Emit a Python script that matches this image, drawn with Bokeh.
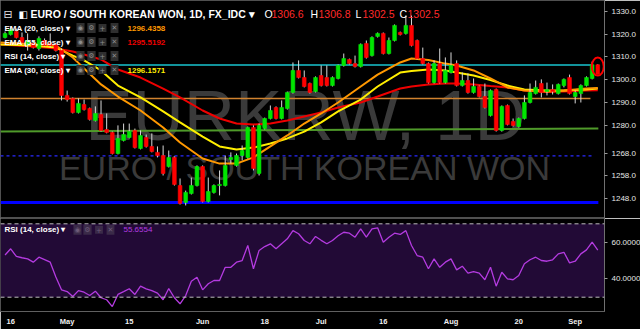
from bokeh.plotting import figure
from bokeh.models import (Range1d, FixedTicker, Label, BoxAnnotation, Span,
                          ColumnDataSource, NumeralTickFormatter)
from bokeh.layouts import column
from bokeh.embed import file_html
from bokeh.resources import INLINE

# ---------------- data ----------------
bar_idx = list(range(-1, 105))
opens = [1318.5, 1319.8, 1321.1, 1318.5, 1315.5, 1315.9, 1313.7, 1317.2, 1315.9, 1315.5,
         1312.8, 1293.2, 1291.9, 1285.7, 1289.2, 1287.5, 1282.2, 1284.9, 1278.3, 1277.0,
         1267.8, 1273.5, 1274.8, 1277.9, 1270.0, 1274.8, 1270.9, 1268.3, 1266.9, 1262.1,
         1266.1, 1253.8, 1246.4, 1250.3, 1253.8, 1262.1, 1246.8, 1250.8, 1253.8, 1253.8,
         1265.2, 1262.6, 1266.9, 1266.1, 1279.2, 1259.1, 1278.7, 1283.1, 1287.9, 1283.1,
         1287.5, 1294.5, 1304.1, 1301.0, 1298.4, 1294.9, 1301.9, 1301.0, 1297.5, 1300.6,
         1306.3, 1308.9, 1307.1, 1305.8, 1315.9, 1310.6, 1319.0, 1320.3, 1311.5, 1317.2,
         1320.7, 1320.3, 1323.8, 1317.2, 1309.3, 1307.1, 1298.8, 1307.1, 1298.8, 1303.2,
         1307.1, 1297.5, 1299.7, 1294.5, 1297.1, 1292.7, 1284.4, 1295.8, 1277.9, 1288.8,
         1281.8, 1279.6, 1283.1, 1290.1, 1294.0, 1298.4, 1294.9, 1295.8, 1294.0, 1297.5,
         1301.0, 1292.7, 1294.0, 1297.5, 1300.6, 1306.6]
highs = [1321.1, 1323.3, 1322.4, 1320.7, 1320.3, 1316.8, 1319.0, 1318.1, 1320.3, 1315.9,
         1313.7, 1295.3, 1292.3, 1291.9, 1291.4, 1287.9, 1288.4, 1291.0, 1285.3, 1277.4,
         1280.1, 1280.9, 1280.9, 1278.7, 1277.9, 1276.1, 1276.6, 1270.9, 1271.3, 1269.1,
         1266.5, 1256.9, 1251.6, 1257.3, 1262.6, 1262.6, 1257.3, 1254.3, 1260.4, 1266.9,
         1268.3, 1267.8, 1271.3, 1279.6, 1280.1, 1280.9, 1283.5, 1288.8, 1288.4, 1291.0,
         1294.9, 1307.6, 1308.5, 1304.1, 1298.8, 1301.5, 1306.3, 1306.3, 1301.5, 1306.7,
         1311.5, 1309.3, 1310.6, 1315.9, 1317.2, 1319.0, 1320.7, 1320.7, 1318.5, 1324.2,
         1321.1, 1328.1, 1328.1, 1317.6, 1314.1, 1307.6, 1308.5, 1313.7, 1309.8, 1312.0,
         1308.5, 1303.2, 1302.8, 1300.6, 1297.5, 1298.4, 1295.8, 1296.2, 1288.8, 1289.2,
         1283.1, 1283.5, 1293.2, 1298.4, 1299.7, 1300.2, 1298.8, 1298.0, 1298.4, 1300.6,
         1302.3, 1295.3, 1298.0, 1301.5, 1308.0, 1306.8]
lows = [1318.1, 1319.4, 1318.1, 1315.9, 1312.8, 1313.7, 1312.8, 1314.6, 1314.1, 1312.4,
        1291.0, 1290.5, 1285.3, 1285.3, 1286.6, 1282.2, 1281.8, 1277.4, 1276.6, 1267.4,
        1267.4, 1273.1, 1274.4, 1270.0, 1269.6, 1270.4, 1268.3, 1266.1, 1258.2, 1261.7,
        1253.8, 1245.5, 1245.1, 1249.9, 1253.4, 1246.4, 1246.4, 1250.3, 1249.5, 1253.4,
        1263.4, 1262.1, 1264.8, 1265.6, 1260.4, 1258.2, 1278.3, 1282.7, 1282.7, 1282.7,
        1287.0, 1294.0, 1300.6, 1296.7, 1294.0, 1294.5, 1297.1, 1297.1, 1297.1, 1300.2,
        1305.8, 1306.7, 1305.4, 1305.4, 1309.3, 1310.2, 1318.5, 1311.1, 1311.1, 1316.8,
        1319.4, 1319.8, 1314.6, 1308.9, 1306.7, 1298.4, 1298.4, 1298.4, 1298.4, 1302.8,
        1297.1, 1297.1, 1294.0, 1294.0, 1292.3, 1287.5, 1284.0, 1277.4, 1277.4, 1280.1,
        1279.6, 1279.2, 1282.7, 1289.7, 1293.6, 1292.3, 1293.2, 1293.6, 1293.6, 1296.7,
        1293.6, 1289.7, 1290.1, 1297.1, 1300.2, 1302.5]
closes = [1320.3, 1322.0, 1318.5, 1316.3, 1317.2, 1314.1, 1318.1, 1315.0, 1315.0, 1312.8,
          1293.2, 1291.4, 1285.7, 1289.7, 1287.0, 1282.7, 1285.3, 1277.9, 1277.0, 1267.8,
          1274.4, 1276.1, 1277.4, 1270.4, 1275.7, 1270.9, 1268.7, 1266.9, 1259.1, 1266.1,
          1254.3, 1246.0, 1250.8, 1253.8, 1262.1, 1246.8, 1251.2, 1253.8, 1254.3, 1262.6,
          1266.1, 1266.9, 1269.1, 1279.2, 1261.3, 1280.1, 1283.1, 1286.6, 1283.1, 1287.9,
          1294.5, 1304.1, 1301.0, 1297.1, 1294.5, 1301.0, 1297.5, 1297.5, 1301.0, 1306.3,
          1309.3, 1307.1, 1305.8, 1315.5, 1309.8, 1318.5, 1320.3, 1311.5, 1317.2, 1323.8,
          1319.8, 1323.8, 1315.0, 1309.3, 1307.1, 1298.8, 1307.1, 1298.8, 1304.1, 1306.3,
          1297.5, 1299.7, 1294.5, 1297.1, 1292.7, 1287.9, 1295.3, 1277.9, 1288.4, 1280.5,
          1280.1, 1283.1, 1290.1, 1294.5, 1296.7, 1294.5, 1295.8, 1294.9, 1298.0, 1300.2,
          1294.0, 1294.5, 1297.5, 1301.0, 1306.6, 1302.5]
rsi = [53.0, 56.4, 52.2, 51.5, 50.9, 49.1, 51.8, 50.5, 49.1, 41.0,
       34.0, 33.1, 30.4, 33.6, 32.7, 30.9, 33.3, 29.7, 28.6, 24.9,
       31.5, 33.0, 34.6, 31.5, 36.0, 34.5, 33.6, 32.2, 28.6, 34.7,
       29.7, 26.4, 30.9, 38.7, 40.9, 34.0, 37.3, 39.1, 39.1, 46.3,
       46.3, 49.1, 50.0, 58.2, 45.5, 55.5, 57.6, 59.1, 56.4, 59.1,
       61.8, 66.3, 64.6, 60.9, 59.1, 63.1, 61.0, 59.1, 60.9, 63.5,
       65.4, 64.9, 62.7, 67.3, 62.7, 67.3, 67.8, 60.0, 62.7, 64.9,
       64.2, 66.3, 58.2, 52.7, 51.8, 45.5, 50.9, 46.3, 49.1, 50.9,
       44.9, 46.9, 43.1, 44.0, 43.1, 39.5, 46.3, 36.0, 43.6, 40.0,
       39.5, 41.8, 48.2, 50.4, 51.8, 50.0, 49.6, 50.4, 53.6, 54.5,
       48.7, 49.6, 53.6, 55.8, 60.0, 55.7]

ema_idx = [-2, 4, 8, 11, 13, 16, 19, 23, 27, 30, 34, 37, 40, 43, 46, 49, 52,
           55, 58, 62, 65, 69, 71, 74, 77, 79, 82, 85, 88, 91, 95, 98, 102, 104]
ema20 = [1316.3, 1315.7, 1315.0, 1309.8, 1305.0, 1298.0, 1292.7, 1286.6, 1279.2,
         1272.6, 1265.6, 1263.4, 1263.4, 1266.1, 1270.9, 1275.7, 1280.9, 1285.3,
         1290.1, 1297.1, 1302.3, 1307.6, 1309.3, 1308.7, 1307.1, 1306.3, 1304.1,
         1300.6, 1296.7, 1295.3, 1294.9, 1295.3, 1296.2, 1296.4]
ema30 = [1315.5, 1315.0, 1314.1, 1310.6, 1308.5, 1304.1, 1297.5, 1292.3, 1286.2,
         1281.4, 1275.2, 1270.9, 1269.6, 1270.4, 1272.2, 1274.4, 1277.4, 1281.4,
         1286.2, 1291.4, 1297.1, 1303.2, 1303.9, 1304.5, 1304.1, 1303.2, 1301.9,
         1299.9, 1297.5, 1295.8, 1295.3, 1295.3, 1295.8, 1296.2]
ema55 = [1315.5, 1314.6, 1313.7, 1312.4, 1311.1, 1308.9, 1304.5, 1301.0, 1296.2,
         1292.3, 1286.6, 1283.1, 1280.9, 1280.5, 1280.9, 1282.2, 1284.0, 1285.7,
         1287.9, 1290.1, 1292.7, 1296.2, 1297.1, 1298.0, 1298.4, 1298.4, 1298.0,
         1297.3, 1296.7, 1295.3, 1294.7, 1294.9, 1295.3, 1295.5]

level_y0 = [1306.5, 1291.8, 1277.4, 1266.8, 1246.4]
level_y1 = [1306.5, 1291.8, 1278.7, 1266.8, 1246.4]
level_end = [103.2, 102.7, 104.1, 103.2, 104.1]
level_colors = ["#19c4cf", "#d0822f", "#4f9a2a", "#2a2aff", "#0000ff"]
level_widths = [1.5, 1.5, 2, 1.3, 3]
level_dash = ["solid", "solid", "solid", "3 3", "solid"]

price_ticks = [1248, 1258, 1268, 1280, 1290, 1300, 1310, 1320, 1330]
rsi_ticks = [40, 60]
time_ticks = [0, 10, 21, 34, 45, 55, 66, 78, 90, 100]
time_labels = ["16", "May", "15", "Jun", "18", "Jul", "16", "Aug", "20", "Sep"]

# ---------------- layout ----------------
FRAME_W, PRICE_H, RSI_H, AXIS_H, RIGHT_W = 604, 218, 93, 18, 36
X0, X1 = -1.807, 105.19
P_BOT, P_TOP = 1239.40, 1334.68
R_BOT, R_TOP = 22.2, 72.9
BG = "#000000"
FONT = "Liberation Sans"


def x_at(px):
    return X0 + (X1 - X0) * px / FRAME_W


def p_at(py):
    return P_TOP - (P_TOP - P_BOT) * py / PRICE_H


def r_at(py):
    return R_TOP - (R_TOP - R_BOT) * (py - PRICE_H) / RSI_H


xr = Range1d(X0, X1)
p1 = figure(frame_width=FRAME_W, frame_height=PRICE_H, x_range=xr,
            y_range=Range1d(P_BOT, P_TOP), output_backend="svg",
            toolbar_location=None, x_axis_location=None, y_axis_location="right",
            min_border_left=0, min_border_top=0, min_border_bottom=0,
            min_border_right=RIGHT_W, background_fill_color=BG,
            border_fill_color=BG, outline_line_color="#505050")
p2 = figure(frame_width=FRAME_W, frame_height=RSI_H, x_range=xr,
            y_range=Range1d(R_BOT, R_TOP), output_backend="svg",
            toolbar_location=None, y_axis_location="right",
            min_border_left=0, min_border_top=0, min_border_bottom=AXIS_H,
            min_border_right=RIGHT_W, background_fill_color=BG,
            border_fill_color=BG, outline_line_color="#505050")

for p in (p1, p2):
    p.grid.visible = False
    for ax in p.yaxis:
        ax.axis_line_color = "#707070"
        ax.major_tick_line_color = "#9a9a9a"
        ax.major_tick_out = 3
        ax.major_tick_in = 0
        ax.minor_tick_line_color = None
        ax.major_label_standoff = 4
        ax.major_label_text_color = "#e6e6e6"
        ax.major_label_text_font = FONT
        ax.major_label_text_font_size = "8px"

p1.yaxis.ticker = FixedTicker(ticks=price_ticks)
p1.yaxis.formatter = NumeralTickFormatter(format="0.0")
p2.yaxis.ticker = FixedTicker(ticks=rsi_ticks)
p2.yaxis.formatter = NumeralTickFormatter(format="0.0000")

xa = p2.xaxis[0]
xa.ticker = FixedTicker(ticks=time_ticks)
xa.major_label_overrides = {t: l for t, l in zip(time_ticks, time_labels)}
xa.axis_line_color = "#606060"
xa.major_tick_line_color = None
xa.major_tick_out = 0
xa.major_tick_in = 0
xa.minor_tick_line_color = None
xa.minor_tick_out = 0
xa.major_label_standoff = 5
xa.major_label_text_color = "#f0f0f0"
xa.major_label_text_font = FONT
xa.major_label_text_font_style = "bold"
xa.major_label_text_font_size = "7.5px"


def lab(fig, px, yval, text, size, color, bold=False, align="left",
        baseline="middle", font=FONT, bg=None, level=None, pad=0):
    kw = dict(x=x_at(px), y=yval, text=text, text_font=font,
              text_font_size=size, text_color=color,
              text_font_style="bold" if bold else "normal",
              text_align=align, text_baseline=baseline)
    if bg is not None:
        kw.update(background_fill_color=bg, padding=pad)
    if level is not None:
        kw.update(level=level)
    fig.add_layout(Label(**kw))


# watermark
lab(p1, 305, p_at(115), "EURKRW, 1D", "71px", "#3a3a3a", align="center",
    baseline="alphabetic", level="underlay")
lab(p1, 304, p_at(167), "EURO / SOUTH KOREAN WON", "34px", "#3a3a3a",
    align="center", baseline="alphabetic", level="underlay")

# horizontal levels
for y0, y1, xe, c, w, d in zip(level_y0, level_y1, level_end, level_colors,
                               level_widths, level_dash):
    p1.segment(x0=[X0], y0=[y0], x1=[xe], y1=[y1], line_color=c,
               line_width=w, line_dash=d)

# EMAs
p1.line(ema_idx, ema55, line_color="#ee0000", line_width=2)
p1.line(ema_idx, ema30, line_color="#ffee00", line_width=2)
p1.line(ema_idx, ema20, line_color="#ff9800", line_width=2)

# candles
up = [c >= o for o, c in zip(opens, closes)]
src = ColumnDataSource(dict(
    x=bar_idx, h=highs, l=lows,
    top=[max(o, c) for o, c in zip(opens, closes)],
    bottom=[min(o, c) for o, c in zip(opens, closes)],
    color=["#00e600" if u else "#ff0000" for u in up]))
p1.segment(x0="x", y0="h", x1="x", y1="l", line_color="#d8d8d8",
           line_width=1, source=src)
p1.vbar(x="x", width=0.66, top="top", bottom="bottom", fill_color="color",
        line_color="color", line_width=0.6, source=src)

# highlight of last bar
p1.ellipse(x=[bar_idx[-1]], y=[closes[-1] + 3.3], width=12, height=18,
           width_units="screen", height_units="screen", fill_alpha=0,
           line_color="#ff0000", line_width=2)

# last price tag
lab(p1, 607, closes[-1], "1302.5", "8.5px", "#ffffff", bold=True,
    bg="#ff0000", pad=2)

# header
lab(p1, 3, p_at(13.5), "⊟", "11px", "#e0e0e0", font="DejaVu Sans")
lab(p1, 18, p_at(13.5), "◧", "10px", "#ffffff", font="DejaVu Sans")
lab(p1, 30, p_at(13.5), "EURO / SOUTH KOREAN WON, 1D, FX_IDC ▾", "10.5px",
    "#ffffff", bold=True)
for px, t, c in [(264, "O", "#ffffff"), (271, "1306.6", "#ff2a2a"),
                 (310, "H", "#ffffff"), (318, "1306.8", "#ff2a2a"),
                 (355, "L", "#ffffff"), (362, "1302.5", "#ff2a2a"),
                 (399, "C", "#ffffff"), (407, "1302.5", "#ff2a2a")]:
    lab(p1, px, p_at(13.5), t, "10.5px", c)

# legend rows
rows = [("EMA (20, close) ▾", 27.5, "1296.4358", "#ff9800"),
        ("EMA (55, close) ▾", 41.5, "1295.5192", "#ee0000"),
        ("RSI (14, close) ▾", 55.5, None, None),
        ("EMA (30, close) ▾", 69.5, "1296.1571", "#ffee00")]
icons = ["◉", "⚙", "+", "✕"]
for k, (name, py, val, col) in enumerate(rows):
    lab(p1, 4, p_at(py), name, "8px", "#ffffff", bold=True)
    for j, (cx, ic) in enumerate(zip([80, 91, 102, 114], icons)):
        bg = "#2f2f2f"
        lab(p1, cx, p_at(py), ic, "7px", "#8c8c8c", align="center",
            font="DejaVu Sans", bg=bg, pad=1)
    if val:
        lab(p1, 127, p_at(py), val, "8px", col, bold=True)

# RSI pane
p2.add_layout(BoxAnnotation(bottom=30, top=70, fill_color="#220a36",
                            fill_alpha=1, line_alpha=0, level="underlay"))
for lv in (70, 30):
    p2.add_layout(Span(location=lv, dimension="width", line_color="#bdbdbd",
                       line_width=1, line_dash="4 3"))
p2.line(bar_idx, rsi, line_color="#b43be0", line_width=1.3)

lab(p2, 4, r_at(229.3), "RSI (14, close) ▾", "8px", "#ffffff", bold=True)
for cx, ic in zip([77, 87, 98.5, 110], icons):
    lab(p2, cx, r_at(229.3), ic, "7px", "#6c5a78", align="center",
        font="DejaVu Sans", bg="#3a2a48", pad=1)
lab(p2, 123, r_at(229.3), "55.6554", "8px", "#b43be0")

layout = column(p1, p2, spacing=0)
open("out.html", "w").write(file_html(layout, INLINE))
